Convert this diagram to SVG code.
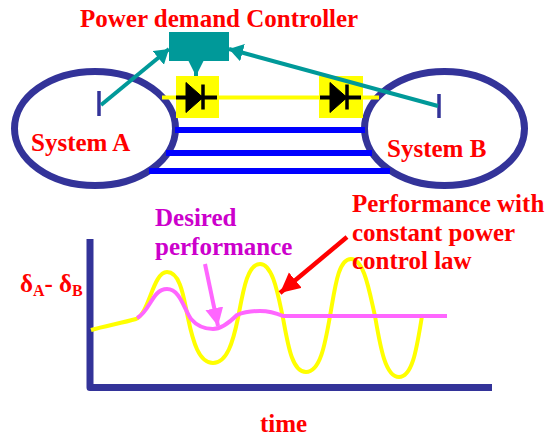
<svg xmlns="http://www.w3.org/2000/svg" width="548" height="436" viewBox="0 0 548 436">
<defs>
<style>
text{font-family:"Liberation Serif","Times New Roman",serif;font-weight:bold;fill:#ff0000;font-size:25px}
.m{fill:#cc00cc}
.sys{fill:#fff;stroke:#333399;stroke-width:7}
.bus{stroke:#0000ff;stroke-width:6;fill:none}
.teal{stroke:#009999;stroke-width:4;fill:none}
.tick{stroke:#333399;stroke-width:3.5;fill:none}
.ax{stroke:#333399;stroke-width:7;fill:none;stroke-linejoin:round}
.curve{fill:none;stroke-width:4;stroke-linecap:butt}
</style>
<marker id="ht" markerUnits="userSpaceOnUse" markerWidth="20" markerHeight="20" refX="14" refY="9" orient="auto"><path d="M0 0L14 9L0 18Z" fill="#009999"/></marker>
<marker id="htd" markerUnits="userSpaceOnUse" markerWidth="20" markerHeight="20" refX="15" refY="8" orient="auto"><path d="M0 0.500L15 8L0 15.500Z" fill="#009999"/></marker>
<marker id="hr" markerUnits="userSpaceOnUse" markerWidth="24" markerHeight="24" refX="20" refY="10" orient="auto"><path d="M0 0L20 10L0 20Z" fill="#ff0000"/></marker>
<marker id="hp" markerUnits="userSpaceOnUse" markerWidth="24" markerHeight="24" refX="18" refY="9" orient="auto"><path d="M0 0L18 9L0 18Z" fill="#ff66ff"/></marker>
<g id="thy"><path d="M-20 0H21" stroke="#000" stroke-width="4"/><path d="M-10 -15L7 0L-10 15Z" fill="#000" stroke="#000" stroke-linejoin="round"/><path d="M7 -13V12" stroke="#000" stroke-width="3.5"/></g>
</defs>
<g id="system-a"><ellipse class="sys" cx="95" cy="128.500" rx="80.500" ry="57"/><text x="31" y="151">System A</text></g>
<g id="system-b"><ellipse class="sys" cx="444.500" cy="128.500" rx="80" ry="57"/><text x="387" y="157">System B</text></g>
<g id="connectors">
<path d="M162 97.500H379" stroke="#ffff00" stroke-width="4"/>
<path class="bus" d="M175 130H365"/>
<path class="bus" d="M166 153H372"/>
<path class="bus" d="M149 171H390"/>
</g>
<g id="device-1"><rect x="176" y="76" width="43" height="42" fill="#ffff00"/><use href="#thy" x="196" y="97.500"/></g>
<g id="device-2"><rect x="319" y="76" width="44" height="42" fill="#ffff00"/><use href="#thy" x="340" y="97.500"/></g>
<g id="controller"><rect x="169" y="32" width="60" height="29" fill="#009999"/><text x="80" y="27">Power demand Controller</text></g>
<g id="signals">
<path class="tick" d="M99 91V116"/>
<path class="tick" d="M439 94V118"/>
<path class="teal" d="M101 105L169 49" marker-end="url(#ht)"/>
<path class="teal" d="M438 106L229 49" marker-end="url(#ht)"/>
<path class="teal" d="M196 61V76" marker-end="url(#htd)"/>
</g>
<g id="chart">
<path class="ax" d="M90 239V387.500H492"/>
<path class="curve" stroke="#ffff00" d="M91 330C105 326 122 323 136 319C149 314 153 272 167 272C181 272 184 300 188 318C193 342 199 363 213 363C227 363 233 342 238 318C243 292 247 264 260 264C273 264 278 295 283 318C288 345 292 372 306 372C320 372 325 345 330 316C335 288 338 259 351 259C364 259 369 290 375 316C380 345 385 377 399 377C413 377 417 346 422 316"/>
<path class="curve" stroke="#ff66ff" d="M137 318C150 312 152 289 167 289C180 289 184 309 191 319C197 326 205 329 213 329C222 329 230 322 237 315C244 312 252 311 260 311C268 311 276 313 283 316H447"/>
<path d="M205 264L218 326" stroke="#ff66ff" stroke-width="4" fill="none" marker-end="url(#hp)"/>
<path d="M347 237L280 293" stroke="#ff0000" stroke-width="4.500" fill="none" marker-end="url(#hr)"/>
<text x="20" y="292">δ<tspan font-size="16" dy="4">A</tspan><tspan dy="-4">- δ</tspan><tspan font-size="16" dy="4">B</tspan></text>
<text class="m" x="155" y="226">Desired</text>
<text class="m" x="155" y="255">performance</text>
<text x="352" y="212">Performance with</text>
<text x="352" y="241">constant power</text>
<text x="352" y="269">control law</text>
<text x="260" y="432">time</text>
</g>
</svg>
